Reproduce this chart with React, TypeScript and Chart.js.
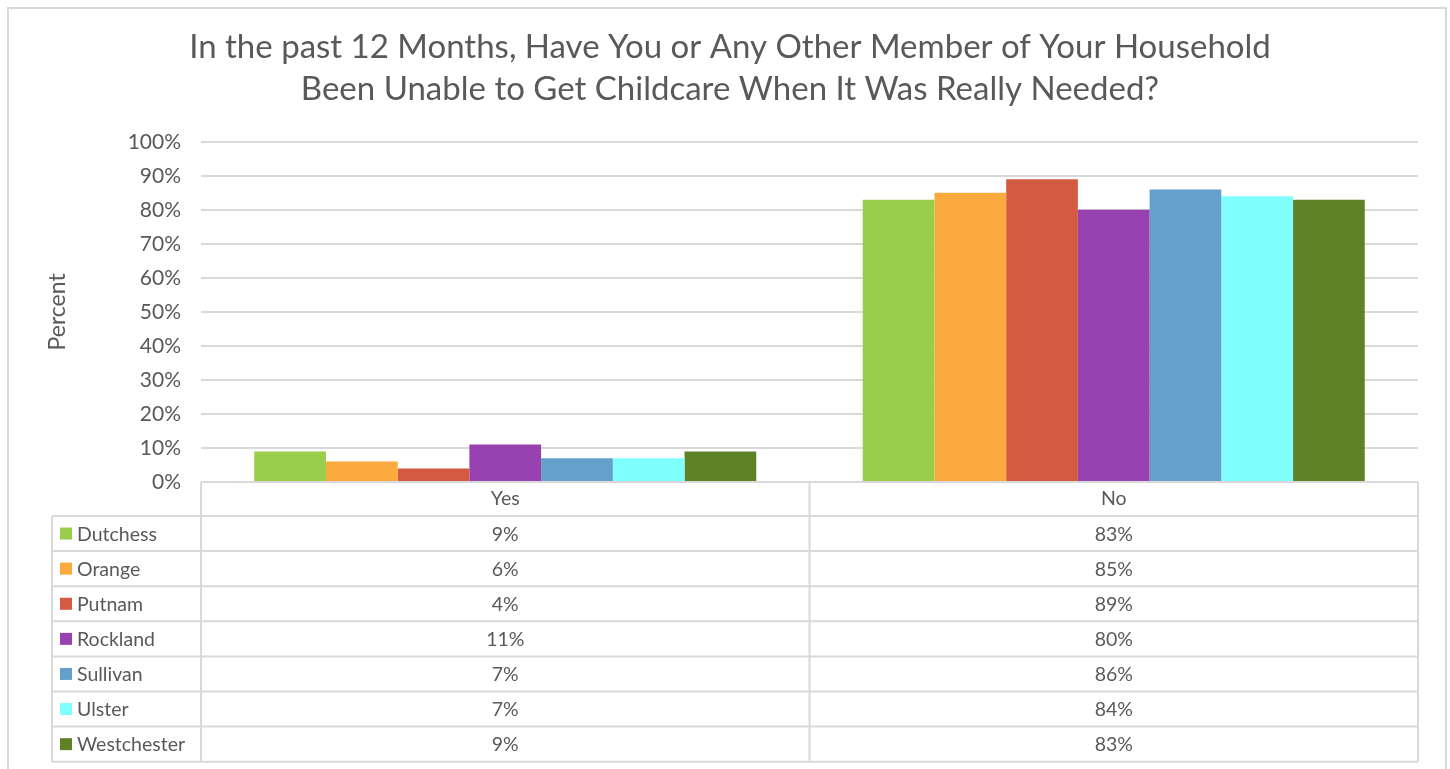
import React, { useEffect, useRef } from "react";
import { Chart, registerables } from "chart.js";

Chart.register(...registerables);

const titleLines = [
  "In the past 12 Months, Have You or Any Other Member of Your Household",
  "Been Unable to Get Childcare When It Was Really Needed?",
];
const categories = ["Yes", "No"];
const counties = ["Dutchess", "Orange", "Putnam", "Rockland", "Sullivan", "Ulster", "Westchester"];
const colors = ["#9BCD4C", "#FBAA3D", "#D55A42", "#9841B0", "#63A1CB", "#80FFFF", "#5E8326"];
const dutchess = [9, 83];
const orange = [6, 85];
const putnam = [4, 89];
const rockland = [11, 80];
const sullivan = [7, 86];
const ulster = [7, 84];
const westchester = [9, 83];
const seriesValues = [dutchess, orange, putnam, rockland, sullivan, ulster, westchester];
const yTicks = [0, 10, 20, 30, 40, 50, 60, 70, 80, 90, 100];

const FONT = "Lato, 'Noto Sans', sans-serif";
const TEXT = "#595959";
const LINE = "#d9d9d9";

const tablePlugin = {
  id: "dataTable",
  beforeDraw(chart: any) {
    const ctx = chart.ctx;
    ctx.save();
    ctx.strokeStyle = LINE;
    ctx.lineWidth = 2;
    ctx.strokeRect(8, 8, 1438, 800);
    ctx.restore();
  },
  afterDraw(chart: any) {
    const ctx = chart.ctx;
    const x = chart.scales.x;
    const area = chart.chartArea;
    const top = area.bottom;
    const headerH = 34;
    const rowH = 35.1;
    const leftX = 52;
    const n = counties.length;
    const bottom = top + headerH + rowH * n;
    const half = (x.getPixelForValue(1) - x.getPixelForValue(0)) / 2;
    const colEdges = [x.getPixelForValue(0) - half];
    categories.forEach((_, i) => colEdges.push(x.getPixelForValue(i) + half));

    ctx.save();
    ctx.strokeStyle = LINE;
    ctx.lineWidth = 2;
    ctx.beginPath();
    for (let r = 0; r <= n; r++) {
      const y = top + headerH + r * rowH;
      ctx.moveTo(leftX, y);
      ctx.lineTo(colEdges[colEdges.length - 1], y);
    }
    colEdges.forEach((cx) => {
      ctx.moveTo(cx, top);
      ctx.lineTo(cx, bottom);
    });
    ctx.moveTo(leftX, top + headerH);
    ctx.lineTo(leftX, bottom);
    ctx.stroke();

    ctx.textBaseline = "middle";
    for (let r = 0; r < n; r++) {
      const cy = top + headerH + r * rowH + rowH / 2;
      ctx.fillStyle = colors[r];
      ctx.fillRect(60, cy - 6, 12, 12);
      ctx.fillStyle = TEXT;
      ctx.font = `19.5px ${FONT}`;
      ctx.textAlign = "left";
      ctx.fillText(counties[r], 77, cy + 1);
      ctx.font = `19.5px ${FONT}`;
      ctx.textAlign = "center";
      categories.forEach((_, i) => {
        ctx.fillText(seriesValues[r][i] + "%", x.getPixelForValue(i), cy + 1);
      });
    }
    ctx.restore();
  },
};

export default function App() {
  const ref = useRef<HTMLCanvasElement>(null);
  useEffect(() => {
    if (!ref.current) return;
    const chart = new Chart(ref.current, {
      type: "bar",
      data: {
        labels: categories,
        datasets: counties.map((c, i) => ({
          label: c,
          data: seriesValues[i],
          backgroundColor: colors[i],
          borderWidth: 0,
          categoryPercentage: 0.825,
          barPercentage: 1,
        })),
      },
      options: {
        responsive: false,
        animation: false,
        layout: { padding: { left: 42, right: 32, top: 24, bottom: 0 } },
        plugins: {
          legend: { display: false },
          tooltip: { enabled: false },
          title: {
            display: true,
            text: titleLines,
            color: TEXT,
            font: { family: FONT, size: 33, weight: "normal", lineHeight: 1.27 },
            padding: { top: 2, bottom: 32 },
          },
        },
        scales: {
          x: {
            grid: { display: false, drawTicks: false },
            border: { display: false },
            ticks: { color: TEXT, font: { family: FONT, size: 19.5 }, padding: 5 },
            afterFit(scale: any) {
              scale.height = 287;
            },
          },
          y: {
            min: 0,
            max: 100,
            afterBuildTicks(scale: any) {
              scale.ticks = yTicks.map((v) => ({ value: v }));
            },
            grid: { color: LINE, lineWidth: 2, drawTicks: false },
            border: { display: false },
            ticks: {
              color: TEXT,
              font: { family: FONT, size: 21 },
              padding: 20,
              callback: (v: any) => v + "%",
            },
            title: {
              display: true,
              text: "Percent",
              color: TEXT,
              font: { family: FONT, size: 23 },
              padding: { top: 2, bottom: 0 },
            },
            afterFit(scale: any) {
              scale.width = 159;
            },
          },
        },
      },
      plugins: [tablePlugin],
    } as any);
    return () => chart.destroy();
  }, []);
  return (
    <div style={{ position: "fixed", left: 0, top: 0, width: 1450, height: 769, background: "#fff" }}>
      <canvas ref={ref} width={1450} height={769} style={{ display: "block" }} />
    </div>
  );
}
